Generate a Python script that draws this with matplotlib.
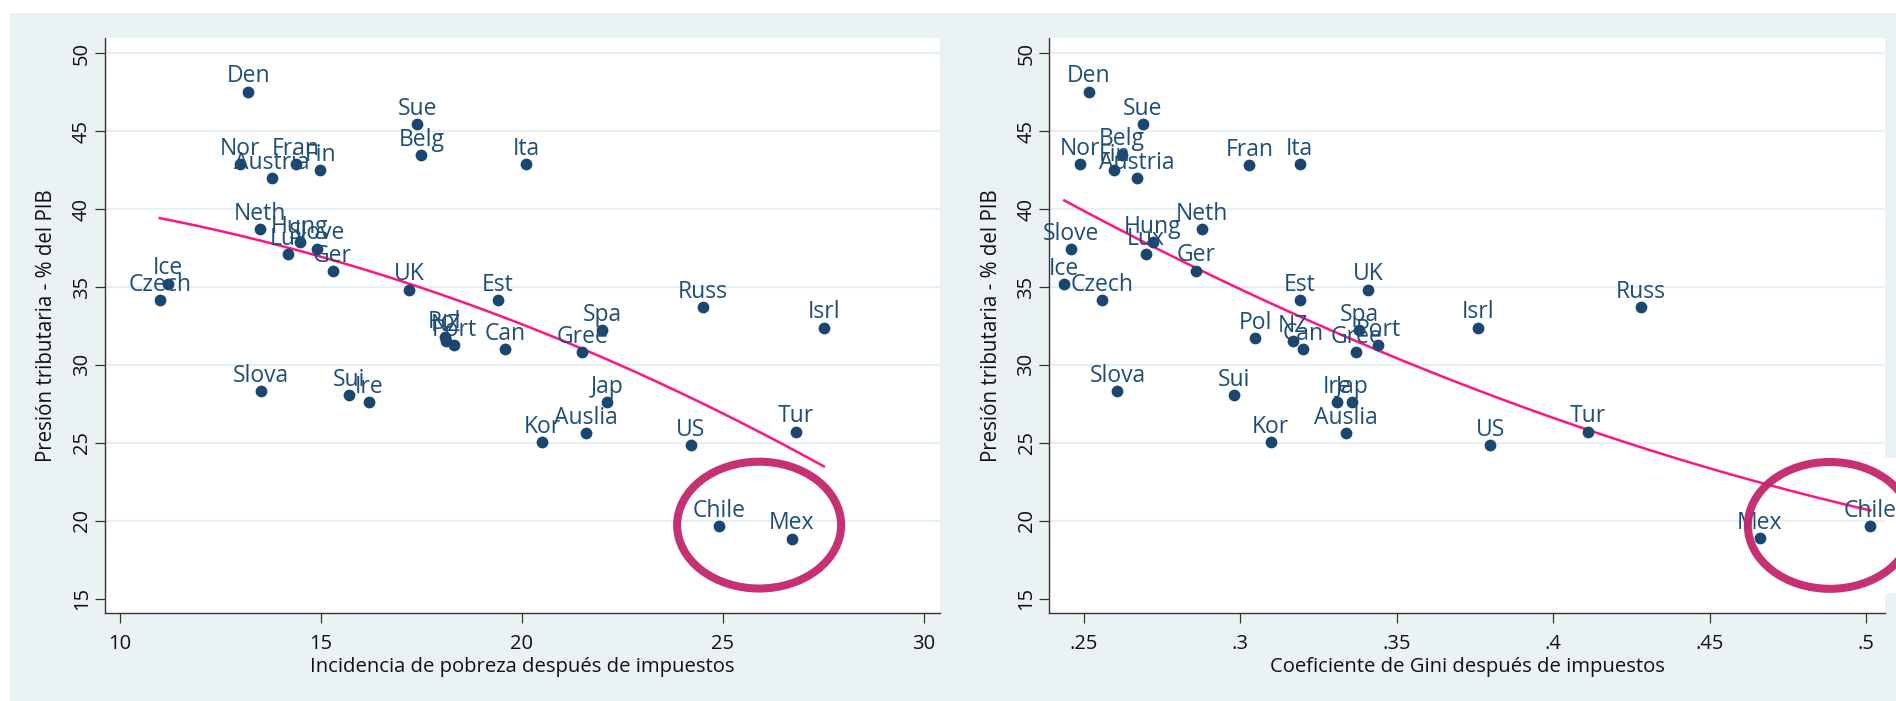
import matplotlib
matplotlib.use("Agg")
import matplotlib.pyplot as plt
import numpy as np
from matplotlib.patches import Ellipse, Rectangle

plt.rcParams['font.family'] = ['Open Sans', 'DejaVu Sans']

# ---------------- data ----------------
countries_p = ["Den", "Sue", "Belg", "Ita", "Nor", "Fran", "Austria", "Fin", "Neth",
               "Hung", "Slove", "Lux", "Ger", "Ice", "Czech", "UK", "Est", "Pol", "NZ",
               "Port", "Can", "Spa", "Gree", "Russ", "Isrl", "Slova", "Sui", "Ire", "Kor",
               "Jap", "Auslia", "US", "Tur", "Chile", "Mex"]
poverty = [13.19, 17.40, 17.50, 20.10, 12.99, 14.38, 13.78, 14.98, 13.49,
           14.48, 14.89, 14.19, 15.29, 11.19, 10.99, 17.20, 19.40, 18.08, 18.12,
           18.31, 19.59, 22.00, 21.50, 24.50, 27.51, 13.50, 15.70, 16.19, 20.51,
           22.11, 21.60, 24.20, 26.81, 24.90, 26.71]
tax_p = [47.54, 45.47, 43.46, 42.87, 42.87, 42.87, 41.99, 42.48, 38.72,
         37.87, 37.46, 37.10, 36.03, 35.22, 34.15, 34.83, 34.15, 31.80, 31.55,
         31.26, 31.00, 32.22, 30.83, 33.72, 32.40, 28.31, 28.04, 27.63, 25.06,
         27.63, 25.62, 24.83, 25.71, 19.66, 18.85]

countries_g = ["Den", "Sue", "Belg", "Nor", "Fin", "Austria", "Fran", "Ita", "Neth",
               "Hung", "Lux", "Slove", "Ger", "Ice", "Czech", "Est", "UK", "Pol", "NZ",
               "Can", "Spa", "Gree", "Port", "Isrl", "Russ", "Slova", "Sui", "Ire", "Jap",
               "Auslia", "Kor", "US", "Tur", "Mex", "Chile"]
gini = [0.2516, 0.2688, 0.2621, 0.2487, 0.2597, 0.2669, 0.3029, 0.3189, 0.2877,
        0.2719, 0.2697, 0.2457, 0.2859, 0.2437, 0.2558, 0.3189, 0.3409, 0.3047, 0.3168,
        0.3200, 0.3380, 0.3370, 0.3440, 0.3759, 0.4281, 0.2607, 0.2979, 0.3308, 0.3358,
        0.3338, 0.3097, 0.3799, 0.4110, 0.4660, 0.5014]
tax_g = [47.54, 45.47, 43.49, 42.87, 42.48, 41.99, 42.82, 42.87, 38.72,
         37.88, 37.10, 37.44, 36.05, 35.19, 34.15, 34.15, 34.83, 31.71, 31.52,
         31.00, 32.22, 30.83, 31.26, 32.40, 33.72, 28.31, 28.04, 27.63, 27.63,
         25.62, 25.06, 24.83, 25.71, 18.87, 19.66]

# highlighted region (Chile & Mexico): centre x, centre y, width, height
circle_p = (25.90, 19.72, 4.08, 8.14)
circle_g = (0.4885, 19.70, 0.0525, 8.14)

xlabel_p = "Incidencia de pobreza después de impuestos"
xlabel_g = "Coeficiente de Gini después de impuestos"
ylabel = "Presión tributaria - % del PIB"
yticks = [15, 20, 25, 30, 35, 40, 45, 50]
xticks_p = [10, 15, 20, 25, 30]
xticks_g = [0.25, 0.30, 0.35, 0.40, 0.45, 0.50]
xticklabels_g = [".25", ".3", ".35", ".4", ".45", ".5"]

# ---------------- style ----------------
W, H = 1896, 701
BG = "#EAF2F3"
DOT = "#1B4670"
LBL = "#1F4D78"
TREND = "#FF1483"
RING = "#C2266A"

fig = plt.figure(figsize=(W / 100, H / 100), dpi=100, facecolor="white")
fig.patches.append(Rectangle((10 / W, 0), 1, (H - 12.7) / H, transform=fig.transFigure,
                             facecolor=BG, edgecolor="none", zorder=-10))
# white background of the pasted ring, sticking out on the right
fig.patches.append(Rectangle((1885 / W, (H - 593) / H), 11 / W, 135 / H,
                             transform=fig.transFigure, facecolor="white",
                             edgecolor="none", zorder=-5))

bottom = (H - 613.3) / H
top = (H - 38.3) / H
ax1 = fig.add_axes([104.7 / W, bottom, (940 - 104.7) / W, top - bottom])
ax2 = fig.add_axes([1049.3 / W, bottom, (1885 - 1049.3) / W, top - bottom])


def style(ax, xlim, xticks, xticklabels, xlabel):
    ax.set_facecolor("white")
    ax.set_xlim(*xlim)
    ax.set_ylim(14.06, 50.96)
    for s in ["top", "right"]:
        ax.spines[s].set_visible(False)
    for s in ["left", "bottom"]:
        ax.spines[s].set_color("#333333")
        ax.spines[s].set_linewidth(1.0)
    ax.set_yticks(yticks)
    ax.set_yticklabels([str(v) for v in yticks], rotation=90, va="center")
    ax.set_xticks(xticks)
    ax.set_xticklabels(xticklabels)
    ax.tick_params(axis="both", direction="out", length=7.2, width=0.9,
                   color="#333333", labelsize=14.5, labelcolor="#111111")
    ax.tick_params(axis="x", pad=8)
    ax.tick_params(axis="y", pad=2)
    ax.yaxis.grid(True, color="#E6EFF1", linewidth=1.6)
    ax.set_axisbelow(True)
    ax.get_ygridlines()[0].set_visible(False)
    ax.text(0.5, -54 / 575, xlabel, transform=ax.transAxes, ha="center",
            va="center", fontsize=14.6, color="#111111")
    ax.text(-58 / 835.3, 0.5, ylabel, transform=ax.transAxes, ha="center",
            va="center", rotation=90, fontsize=14.8, color="#111111")


style(ax1, (9.62, 30.4), xticks_p, [str(v) for v in xticks_p], xlabel_p)
style(ax2, (0.2389, 0.5061), xticks_g, xticklabels_g, xlabel_g)

for ax, xs, ys, names, circ in [
        (ax1, poverty, tax_p, countries_p, circle_p),
        (ax2, gini, tax_g, countries_g, circle_g)]:
    ax.scatter(xs, ys, s=72, color=DOT, zorder=3, linewidths=0)
    for n, x, y in zip(names, xs, ys):
        ax.annotate(n, (x, y), xytext=(0, 6.7), textcoords="offset points",
                    ha="center", va="baseline", fontsize=16.5, color=LBL, zorder=4)
    # quadratic fit of the plotted data over its range (as in the original)
    coef = np.polyfit(xs, ys, 2)
    fx = np.linspace(min(xs), max(xs), 200)
    ax.plot(fx, np.polyval(coef, fx), color=TREND, linewidth=1.8, zorder=2)
    cx, cy, cw, ch = circ
    ax.add_patch(Ellipse((cx, cy), cw, ch, facecolor="none", edgecolor=RING,
                         linewidth=5.8, alpha=0.95, zorder=5, clip_on=False))

fig.savefig("out.png", dpi=100, facecolor="white")
